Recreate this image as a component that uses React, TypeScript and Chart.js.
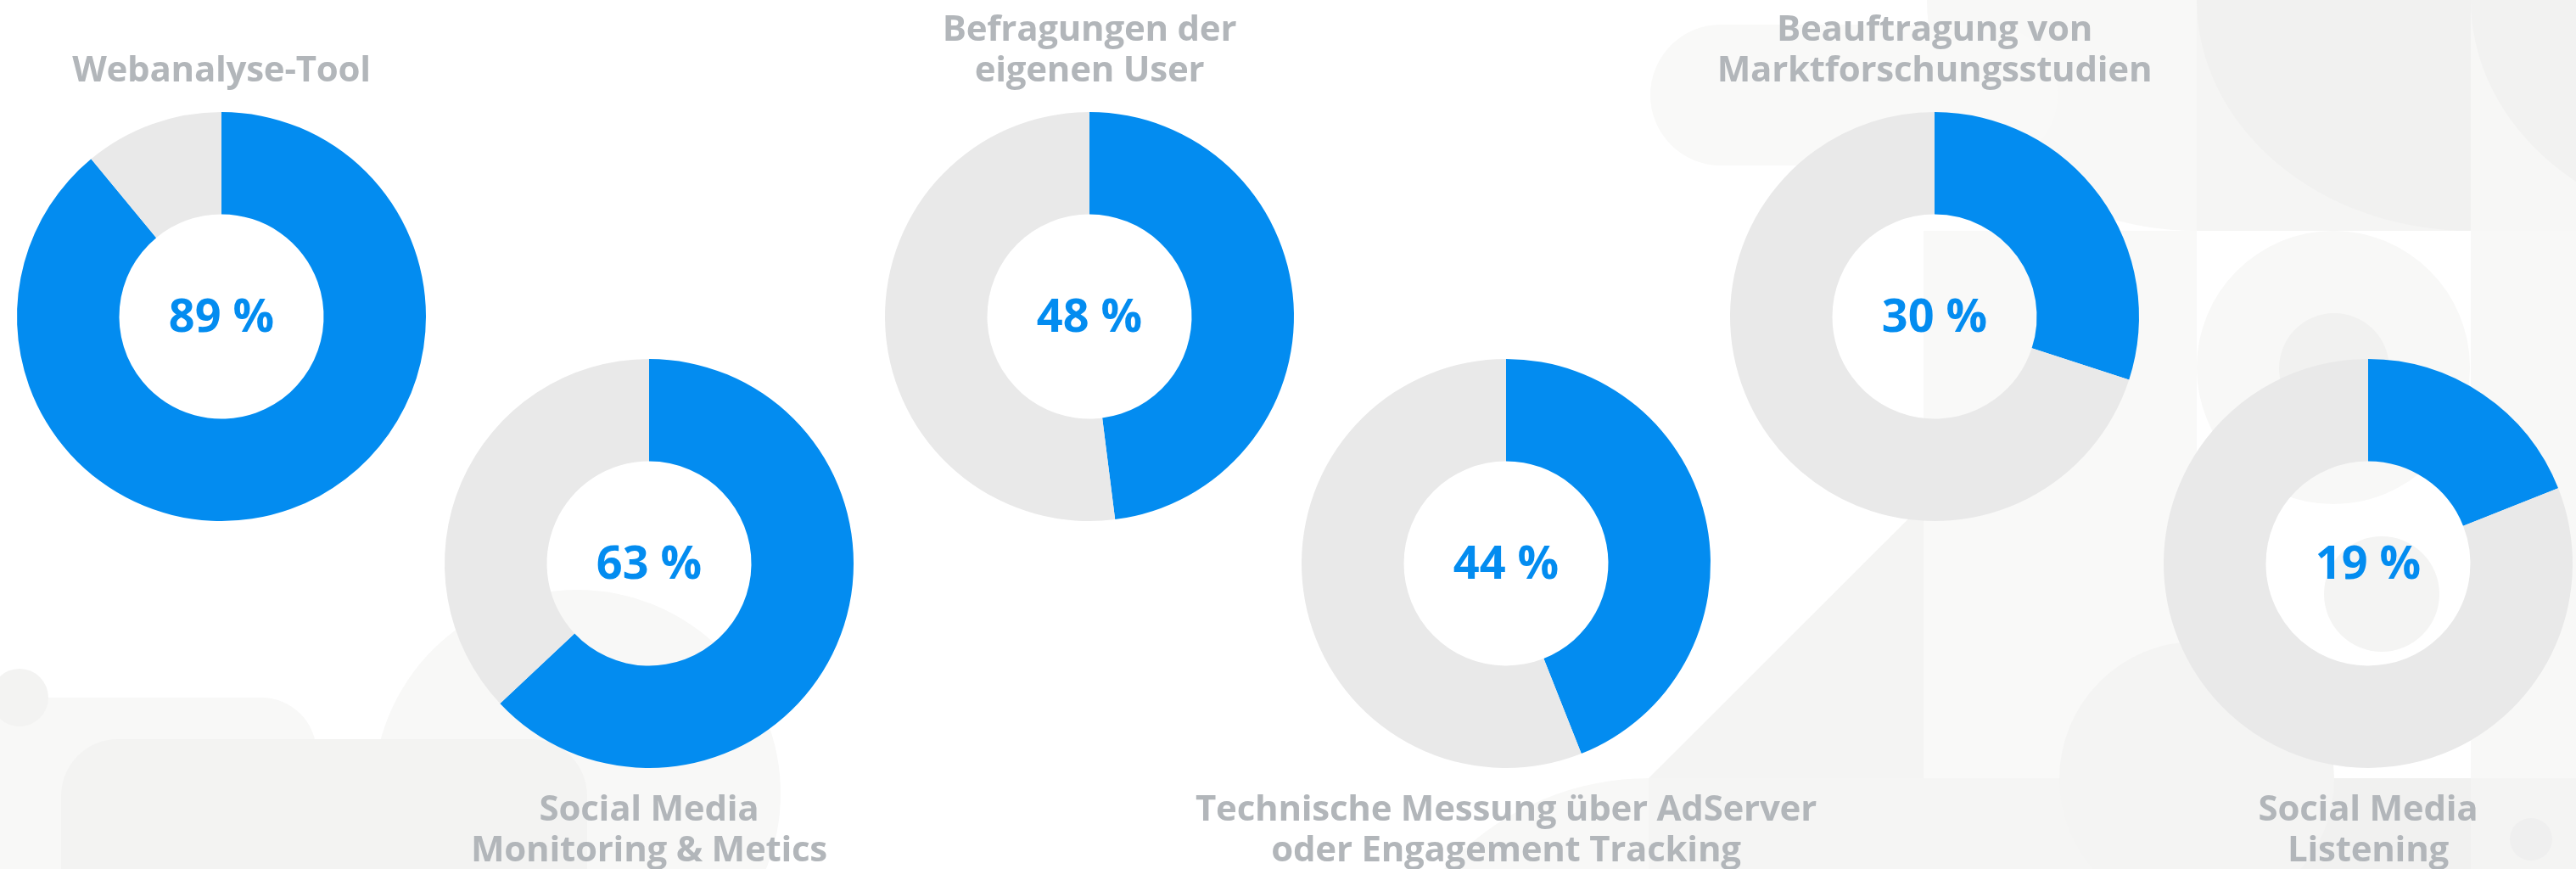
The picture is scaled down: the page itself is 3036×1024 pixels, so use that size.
import React, { useEffect, useRef } from "react";
import { Chart, registerables } from "chart.js";

Chart.register(...registerables);

// ---- data ----
const categories = [
  "Webanalyse-Tool",
  "Social Media Monitoring & Metics",
  "Befragungen der eigenen User",
  "Technische Messung über AdServer oder Engagement Tracking",
  "Beauftragung von Marktforschungsstudien",
  "Social Media Listening",
];
const titleLines: string[][] = [
  ["Webanalyse-Tool"],
  ["Social Media", "Monitoring & Metics"],
  ["Befragungen der", "eigenen User"],
  ["Technische Messung über AdServer", "oder Engagement Tracking"],
  ["Beauftragung von", "Marktforschungsstudien"],
  ["Social Media", "Listening"],
];
const sharePercent = [89, 63, 48, 44, 30, 19];
const sliceLabels = ["Ja", "Nein"];

// ---- layout / style ----
const CENTER_X = [261, 765, 1284, 1775, 2280, 2791];
const CENTER_Y = [373, 664, 373, 664, 373, 664];
const TITLE_SIDE = ["top", "bottom", "top", "bottom", "top", "bottom"];
const RADIUS = 241;
const CANVAS_W = 800;
const CANVAS_H = 1024;
const BLUE = "#038cf0";
const RING_GREY = "#e9e9e9";
const TEXT_GREY = "#b2b6ba";
const FONT = '"Open Sans", "Noto Sans", sans-serif';

const labelPlugin = {
  id: "donutLabels",
  afterDraw(chart: any, _args: any, opts: any) {
    const arc = chart.getDatasetMeta(0).data[0];
    if (!arc) return;
    const { x, y, outerRadius } = arc.getProps(["x", "y", "outerRadius"], true);
    const ctx = chart.ctx;
    ctx.save();
    ctx.textAlign = "center";
    ctx.textBaseline = "alphabetic";
    ctx.fillStyle = BLUE;
    ctx.font = `700 54px ${FONT}`;
    ctx.fillText(opts.center, x, y + 18);
    ctx.fillStyle = TEXT_GREY;
    ctx.font = `700 42px ${FONT}`;
    try {
      (ctx as any).letterSpacing = "-0.25px";
    } catch (e) {
      /* ignore */
    }
    const lines: string[] = opts.lines;
    if (opts.side === "top") {
      lines.forEach((l, i) =>
        ctx.fillText(l, x, y - outerRadius - 36 - (lines.length - 1 - i) * 48)
      );
    } else {
      lines.forEach((l, i) => ctx.fillText(l, x, y + outerRadius + 62 + i * 48));
    }
    ctx.restore();
  },
};

function Donut({ index }: { index: number }) {
  const ref = useRef<HTMLCanvasElement | null>(null);
  useEffect(() => {
    let chart: Chart | null = null;
    let cancelled = false;
    const make = () => {
      if (cancelled || !ref.current) return;
      const cy = CENTER_Y[index];
      const v = sharePercent[index];
      chart = new Chart(ref.current, {
        type: "doughnut",
        data: {
          labels: sliceLabels,
          datasets: [
            {
              label: categories[index],
              data: [v, 100 - v],
              backgroundColor: [BLUE, RING_GREY],
              borderWidth: 0,
              hoverOffset: 0,
            },
          ],
        },
        options: {
          animation: false,
          responsive: false,
          maintainAspectRatio: false,
          events: [],
          cutout: "50%",
          layout: {
            padding: {
              left: CANVAS_W / 2 - RADIUS,
              right: CANVAS_W / 2 - RADIUS,
              top: cy - RADIUS,
              bottom: CANVAS_H - (cy + RADIUS),
            },
          },
          plugins: {
            legend: { display: false },
            tooltip: { enabled: false },
            title: { display: false },
            donutLabels: {
              center: `${v} %`,
              lines: titleLines[index],
              side: TITLE_SIDE[index],
            },
          } as any,
        },
        plugins: [labelPlugin as any],
      });
    };
    const fonts: any = (document as any).fonts;
    if (fonts && fonts.load) {
      Promise.all([
        fonts.load(`700 42px "Open Sans"`),
        fonts.load(`700 54px "Open Sans"`),
      ])
        .catch(() => null)
        .then(make);
    } else {
      make();
    }
    return () => {
      cancelled = true;
      if (chart) chart.destroy();
    };
  }, [index]);
  return (
    <canvas
      ref={ref}
      width={CANVAS_W}
      height={CANVAS_H}
      style={{
        position: "absolute",
        left: CENTER_X[index] - CANVAS_W / 2,
        top: 0,
        width: CANVAS_W,
        height: CANVAS_H,
      }}
    />
  );
}

function Background() {
  return (
    <svg
      width={3036}
      height={1024}
      style={{ position: "absolute", left: 0, top: 0 }}
    >
      {/* top right */}
      <path d="M2589,0 L2271,0 A318,272 0 0 0 2589,272 Z" fill="#f8f8f7" />
      <rect x={2589} y={0} width={323} height={272} fill="#f5f5f4" />
      <path d="M2912,0 L2589,0 A323,272 0 0 0 2912,272 Z" fill="#f1f1f0" />
      <rect x={2912} y={0} width={124} height={272} fill="#f7f7f6" />
      <path d="M3236,0 L2912,0 A324,272 0 0 0 3236,272 Z" fill="#f2f2f1" />
      <rect x={1945} y={29} width={480} height={166} rx={83} fill="#f9f9f8" />
      {/* middle right */}
      <polygon points="2589,272 2589,917 1943,917" fill="#f4f4f3" />
      <rect x={2267} y={272} width={322} height={645} fill="#f9f9f8" />
      <circle cx={2750} cy={433} r={161} fill="#f8f8f7" />
      <circle cx={2751} cy={434} r={65} fill="#f1f1f0" />
      <rect x={2912} y={272} width={124} height={645} fill="#f8f8f7" />
      <circle cx={2807} cy={700} r={68} fill="#f4f4f3" />
      {/* bottom right */}
      <circle cx={1944} cy={1244} r={327} fill="#f8f8f7" />
      <rect x={1943} y={917} width={646} height={107} fill="#f5f5f4" />
      <rect x={2589} y={917} width={323} height={107} fill="#f1f1f0" />
      <circle cx={2589} cy={918} r={162} fill="#f4f4f3" />
      <rect x={2912} y={917} width={124} height={107} fill="#f4f4f3" />
      <circle cx={2983} cy={989} r={25} fill="#efefef" />
      {/* bottom left */}
      <rect x={-100} y={822} width={473} height={400} rx={65} fill="#f8f8f7" />
      <circle cx={23} cy={822} r={34} fill="#f3f3f2" />
      <circle cx={680} cy={935} r={240} fill="#f8f8f7" />
      <rect x={72} y={871} width={620} height={300} rx={67} fill="#f3f3f2" />
    </svg>
  );
}

export default function App() {
  return (
    <div
      style={{
        position: "absolute",
        left: 0,
        top: 0,
        width: 3036,
        height: 1024,
        overflow: "hidden",
        background: "#ffffff",
      }}
    >
      <Background />
      {sharePercent.map((_, i) => (
        <Donut key={i} index={i} />
      ))}
    </div>
  );
}
